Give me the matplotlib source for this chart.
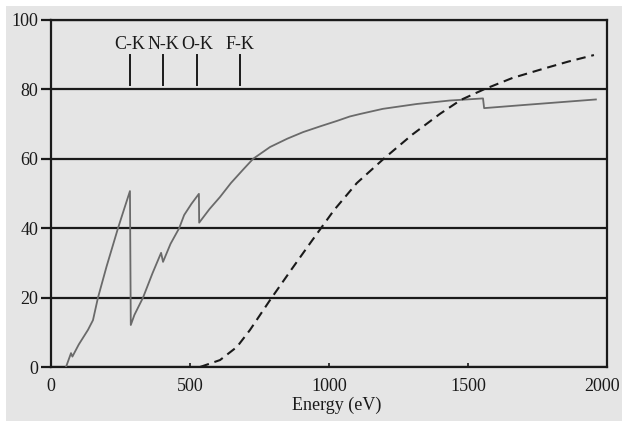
import numpy as np
import matplotlib
matplotlib.use("Agg")
import matplotlib.pyplot as plt
import matplotlib.transforms as mtransforms
from matplotlib.patches import Rectangle

# solid curve (grey)
solid_E = [54, 72, 77, 100, 133, 151, 169, 200, 241, 265, 284, 287, 300, 331, 365,
           396, 403, 430, 461, 479, 505, 532, 533, 570, 608, 647, 690, 727, 788,
           850, 907, 970, 1028, 1075, 1111, 1194, 1316, 1435, 1554, 1558, 1700, 1960]
solid_y = [0, 4, 3, 6.5, 10.7, 13.5, 20, 29, 40, 46, 50.7, 12.1, 15, 20, 27,
           32.9, 30.3, 35.5, 40, 43.8, 47, 49.9, 41.6, 45.5, 49, 53, 56.8, 60, 63.4,
           65.8, 67.7, 69.4, 70.9, 72.2, 72.9, 74.4, 75.8, 76.8, 77.4, 74.6, 75.5, 77.1]

# dashed curve
dash_E = [536, 608, 669, 716, 788, 864, 935, 1018, 1100, 1198, 1300, 1400, 1475,
          1557, 1660, 1773, 1860, 1953]
dash_y = [0, 2, 5.8, 10.7, 19.3, 28, 36, 45.2, 53, 60.1, 67, 73, 77,
          80, 83.3, 86, 88, 89.9]

# absorption edges
edge_names = ["C-K", "N-K", "O-K", "F-K"]
edge_E = [284, 403, 525, 680]

plt.rcParams['font.family'] = ['Liberation Serif', 'DejaVu Serif']
plt.rcParams['font.size'] = 13

bg = '#e5e5e5'
ink = '#1a1a1a'

fig = plt.figure(figsize=(6.22, 4.21), dpi=100, facecolor='white')
fig.patches.append(Rectangle((6/622, 0), 1, 1 - 6/421, transform=fig.transFigure,
                             facecolor=bg, edgecolor='none', zorder=-10))
ax = fig.add_axes([51/622, 1 - 367/421, 556/622, 347/421])
ax.set_facecolor(bg)

ax.plot(solid_E, solid_y, color='#6a6a6a', lw=1.3, zorder=3)
ax.plot(dash_E, dash_y, color=ink, lw=1.5, linestyle=(0, (4.5, 2.8)), zorder=3)

for name, e in zip(edge_names, edge_E):
    ax.plot([e, e], [81.3, 90], color=ink, lw=1.4)
    ax.text(e, 92.8, name, ha='center', va='center', fontsize=13, color=ink)

ax.set_xlim(0, 2000)
ax.set_ylim(0, 100)
ax.set_xticks([0, 500, 1000, 1500, 2000])
ax.set_yticks([0, 20, 40, 60, 80, 100])
ax.tick_params(axis='x', direction='in', length=3, width=1.2, pad=8, colors=ink,
               labelsize=13)
ax.tick_params(axis='y', direction='out', length=7, width=1.6, pad=2, colors=ink,
               labelsize=13)
ax.yaxis.grid(True, color=ink, lw=1.6)
ax.set_axisbelow(True)
for s in ax.spines.values():
    s.set_color(ink)
    s.set_linewidth(1.6)

# keep the last tick label inside the picture
last = ax.get_xticklabels()[-1]
last.set_transform(last.get_transform() +
                   mtransforms.ScaledTranslation(-5/100, 0, fig.dpi_scale_trans))

ax.set_xlabel('Energy (eV)', fontsize=13, color=ink, labelpad=2)
ax.xaxis.set_label_coords(0.514, -0.085)

fig.savefig('out.png', dpi=100, facecolor=fig.get_facecolor())
